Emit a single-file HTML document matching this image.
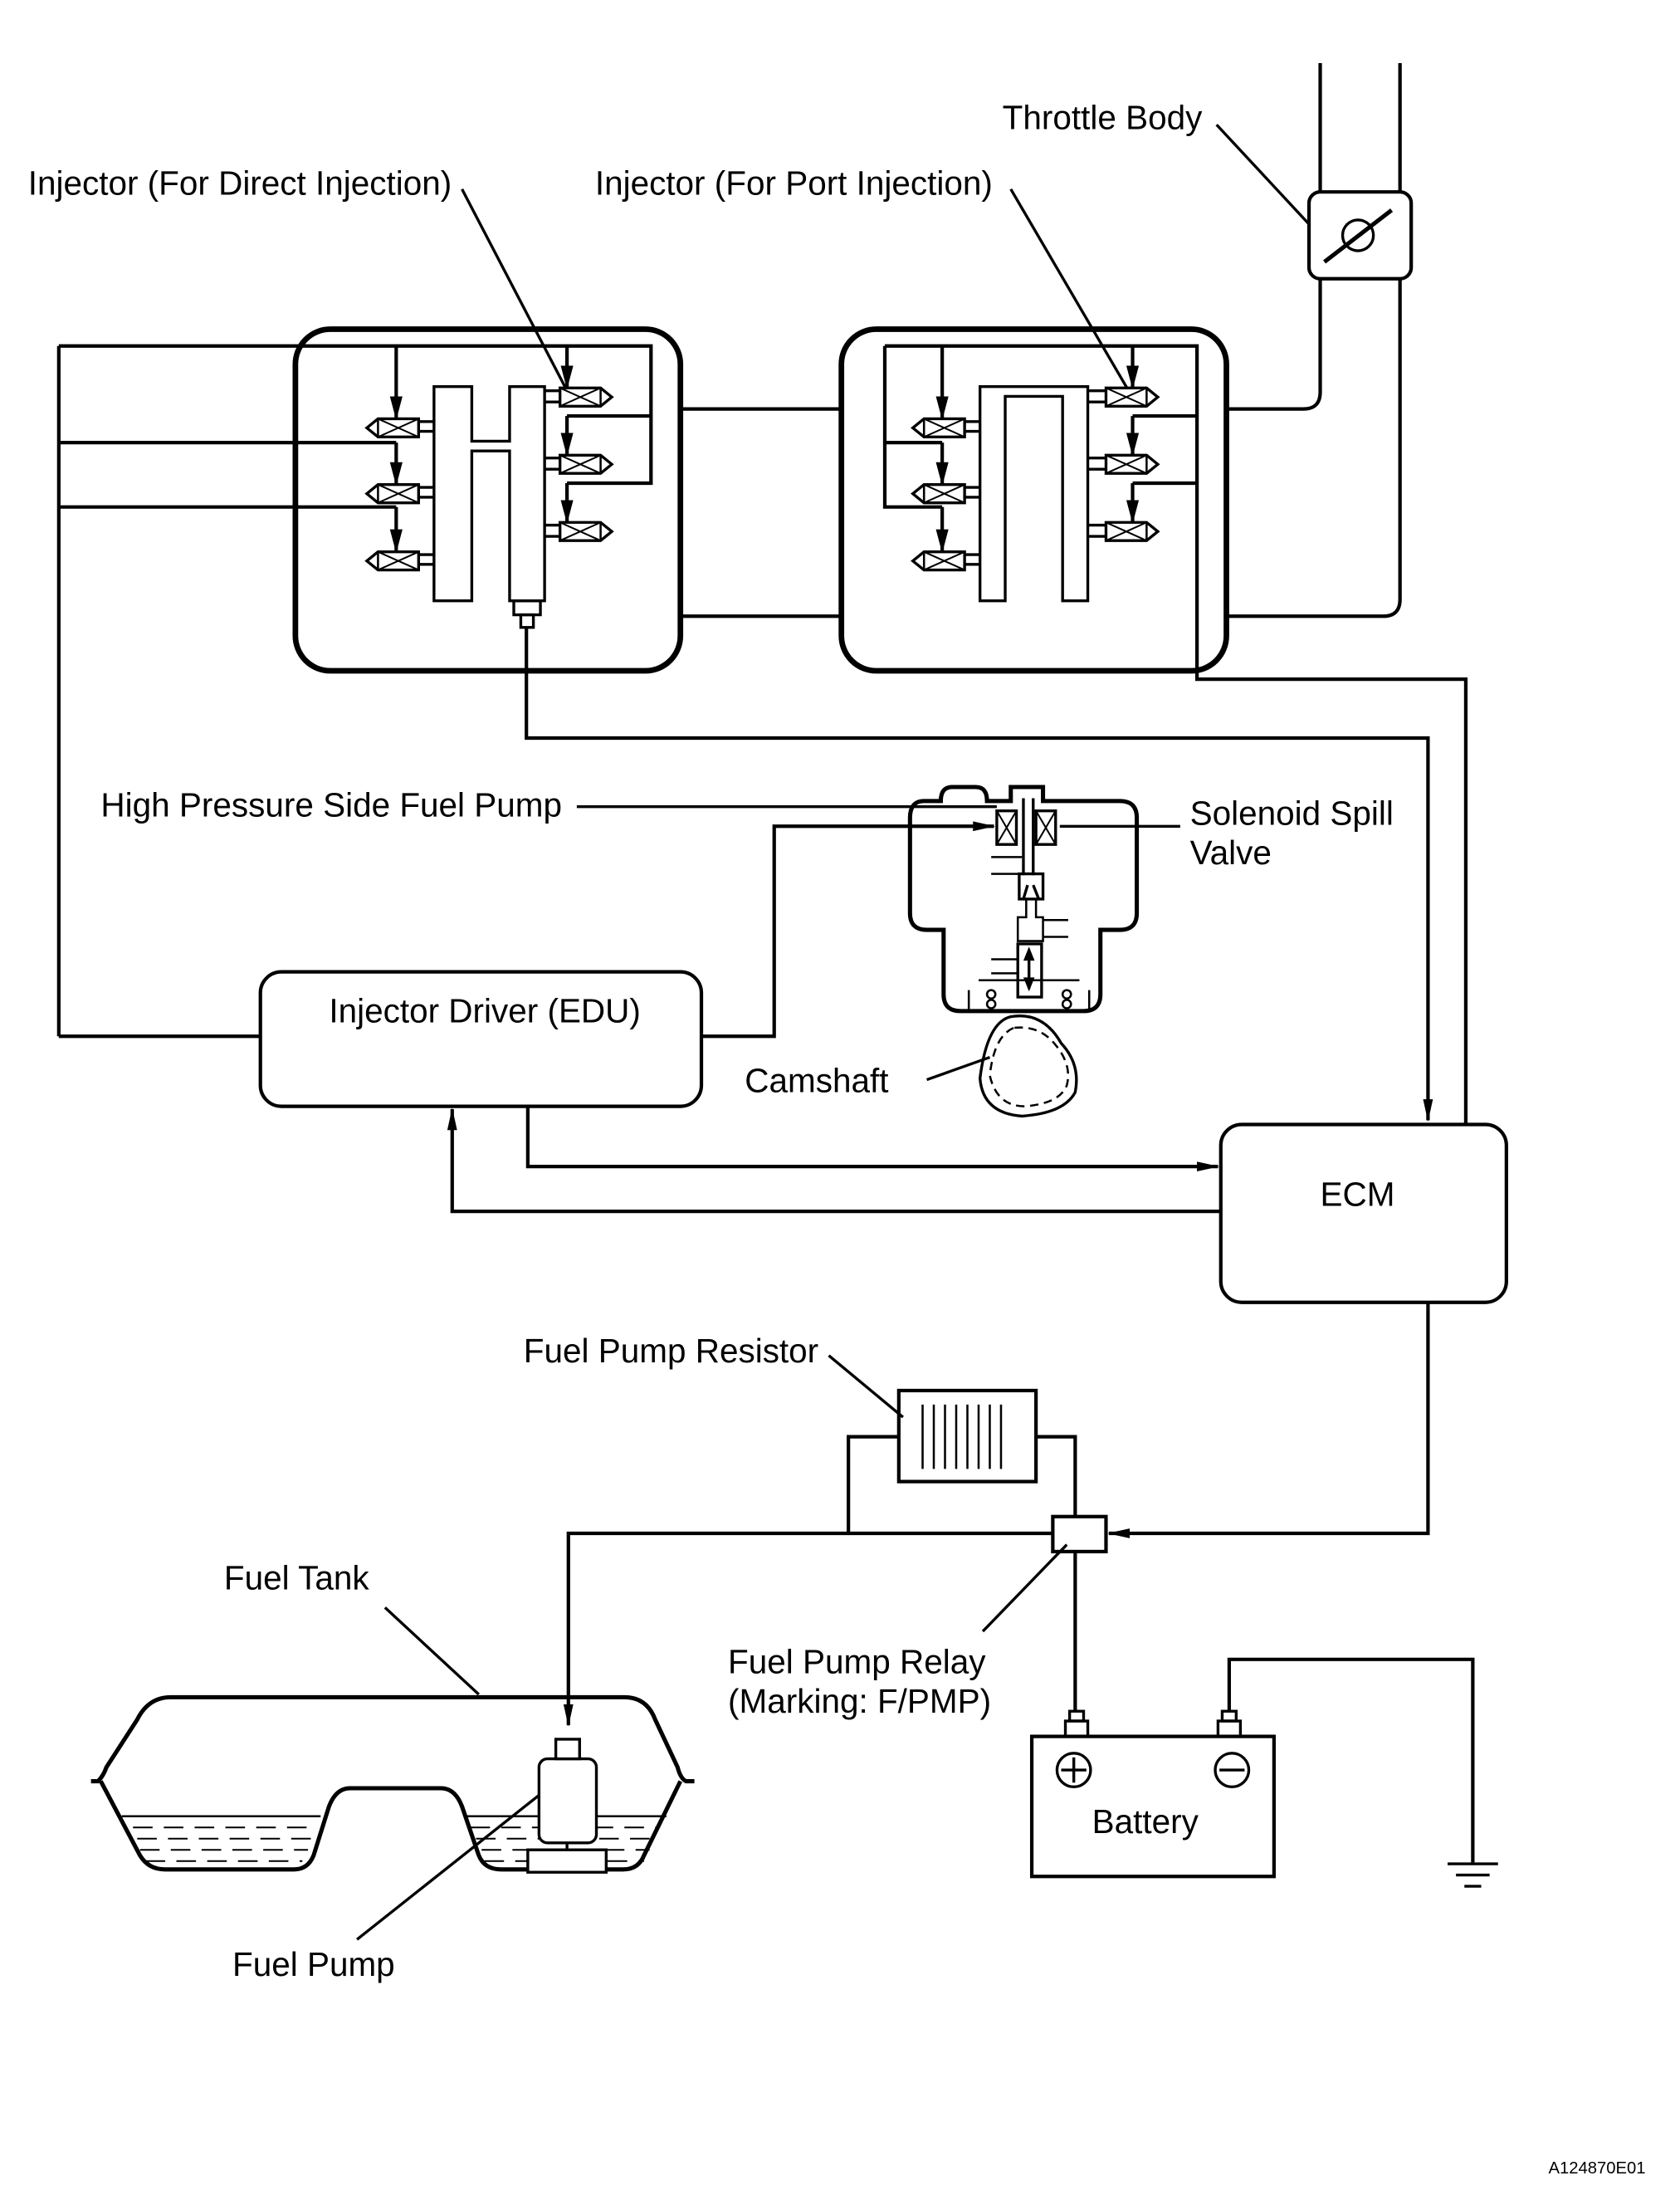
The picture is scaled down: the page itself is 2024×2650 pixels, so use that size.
<!DOCTYPE html>
<html><head><meta charset="utf-8"><style>
html,body{margin:0;padding:0;background:#fff;}
svg{display:block;}
text{font-family:"Liberation Sans",sans-serif;font-size:24px;fill:#000;}
</style></head><body>
<svg width="2024" height="2650" viewBox="0 0 1200 1571" xmlns="http://www.w3.org/2000/svg">
<defs>
<marker id="a" markerWidth="17" markerHeight="10" refX="16" refY="5" orient="auto" markerUnits="userSpaceOnUse"><path d="M0,0.5 L17,5 L0,9.5 Z" fill="#000"/></marker>
<marker id="b" markerWidth="16" markerHeight="10" refX="15" refY="5" orient="auto" markerUnits="userSpaceOnUse"><path d="M0,1.5 L16,5 L0,8.5 Z" fill="#000"/></marker>
<g id="injL"><path d="M0,6.5 L8,0 L37,0 L37,13 L8,13 Z" fill="#fff" stroke="#000" stroke-width="2"/><line x1="8" y1="0" x2="8" y2="13" stroke="#000" stroke-width="1.5"/><path d="M8,0 L37,13 M8,13 L37,0" stroke="#000" stroke-width="1.2"/></g>
<g id="injR"><path d="M37,6.5 L29,0 L0,0 L0,13 L29,13 Z" fill="#fff" stroke="#000" stroke-width="2"/><line x1="29" y1="0" x2="29" y2="13" stroke="#000" stroke-width="1.5"/><path d="M0,0 L29,13 M0,13 L29,0" stroke="#000" stroke-width="1.2"/></g>
</defs>
<g fill="none" stroke="#000" stroke-width="2.5">
<!-- pipe / throttle -->
<path d="M943,45 V280 Q943,292 931,292 H876"/>
<path d="M1000,45 V428 Q1000,440 988,440 H876"/>
<rect x="935" y="137" width="73" height="62" rx="8" fill="#fff"/>
<circle cx="970" cy="168" r="11" stroke-width="2"/>
<line x1="946" y1="187" x2="994" y2="150" stroke-width="3"/>
<line x1="869" y1="89" x2="935" y2="160" stroke-width="2"/>
<!-- blocks -->
<rect x="211" y="235" width="275" height="244" rx="25" stroke-width="4"/>
<rect x="601" y="235" width="275" height="244" rx="25" stroke-width="4"/>
<line x1="486" y1="292" x2="601" y2="292"/>
<line x1="486" y1="440" x2="601" y2="440"/>
<!-- block1 wiring -->
<path d="M42,247 H465 V345 H405" />
<line x1="465" y1="297" x2="405" y2="297"/>
<line x1="42" y1="247" x2="42" y2="740"/>
<line x1="42" y1="740" x2="186" y2="740"/>
<path d="M42,316 H283"/>
<path d="M42,362 H283"/>
<line x1="283" y1="247" x2="283" y2="299" marker-end="url(#a)"/>
<line x1="283" y1="316" x2="283" y2="346" marker-end="url(#a)"/>
<line x1="283" y1="362" x2="283" y2="394" marker-end="url(#a)"/>
<line x1="405" y1="247" x2="405" y2="277" marker-end="url(#a)"/>
<line x1="405" y1="297" x2="405" y2="325" marker-end="url(#a)"/>
<line x1="405" y1="345" x2="405" y2="373" marker-end="url(#a)"/>
<!-- rails block1 -->
<path d="M310,276 H337 V315 H364 V276 H389 V429 H364 V322 H337 V429 H310 Z" stroke-width="2"/>
<path d="M299,301 H310 M299,308 H310 M299,348 H310 M299,355 H310 M299,396 H310 M299,403 H310" stroke-width="2"/>
<path d="M389,279 H400 M389,287 H400 M389,327 H400 M389,335 H400 M389,375 H400 M389,383 H400" stroke-width="2"/>
<rect x="367" y="429" width="19" height="10" stroke-width="2"/>
<rect x="372" y="439" width="9" height="9" stroke-width="2"/>
<path d="M376,448 V527 H1020 V800" marker-end="url(#b)"/>
<line x1="330" y1="135" x2="404" y2="277" stroke-width="2"/>
<!-- block2 wiring -->
<path d="M632,247 H855 V485 H1047 V803"/>
<path d="M632,247 V362 H673"/>
<line x1="632" y1="316" x2="673" y2="316"/>
<line x1="855" y1="297" x2="809" y2="297"/>
<line x1="855" y1="345" x2="809" y2="345"/>
<line x1="673" y1="247" x2="673" y2="299" marker-end="url(#a)"/>
<line x1="673" y1="316" x2="673" y2="346" marker-end="url(#a)"/>
<line x1="673" y1="362" x2="673" y2="394" marker-end="url(#a)"/>
<line x1="809" y1="247" x2="809" y2="277" marker-end="url(#a)"/>
<line x1="809" y1="297" x2="809" y2="325" marker-end="url(#a)"/>
<line x1="809" y1="345" x2="809" y2="373" marker-end="url(#a)"/>
<path d="M700,429 V276 H777 V429 H759 V283 H718 V429 Z" stroke-width="2"/>
<path d="M689,301 H700 M689,308 H700 M689,348 H700 M689,355 H700 M689,396 H700 M689,403 H700" stroke-width="2"/>
<path d="M777,279 H790 M777,287 H790 M777,327 H790 M777,335 H790 M777,375 H790 M777,383 H790" stroke-width="2"/>
<line x1="722" y1="135" x2="805" y2="277" stroke-width="2"/>
<!-- EDU & ECM -->
<rect x="186" y="694" width="315" height="96" rx="15"/>
<rect x="872" y="803" width="204" height="127" rx="15"/>
<path d="M501,740 H553 V590 H710" marker-end="url(#b)"/>
<path d="M377,790 V833 H870" marker-end="url(#b)"/>
<path d="M872,865 H323 V792" marker-end="url(#b)"/>
<line x1="412" y1="576" x2="712" y2="576" stroke-width="2"/>
<line x1="757" y1="590" x2="843" y2="590" stroke-width="2"/>
<!-- pump body -->
<path d="M660,572 H672 Q672,562 680,562 H697 Q705,562 705,572 H722 V562 H745 V572 H800 Q812,572 812,584 V652 Q812,664 800,664 H786 V710 Q786,722 774,722 H686 Q674,722 674,710 V664 H662 Q650,664 650,652 V584 Q650,572 660,572 Z" stroke-width="3"/>
<rect x="712" y="579" width="14" height="24" stroke-width="2"/><path d="M712,579 L726,603 M726,579 L712,603" stroke-width="1.2"/>
<rect x="740" y="579" width="14" height="24" stroke-width="2"/><path d="M740,579 L754,603 M754,579 L740,603" stroke-width="1.2"/>
<path d="M731,570 V625 M738,570 V625" stroke-width="2"/>
<path d="M728,624 H745 V642 H728 Z M731,642 L734,632 M742,642 L738,632" stroke-width="2"/>
<path d="M708,612 H730 M708,624 H730" stroke-width="1.5"/>
<path d="M733,642 V655 H727 V672 H745 V655 H740 V642 M745,657 H763 M745,669 H763" stroke-width="1.5"/>
<rect x="727" y="674" width="17" height="38" stroke-width="2"/>
<line x1="735" y1="680" x2="735" y2="706" stroke-width="2"/>
<path d="M731,686 L735,676 L739,686 Z M731,698 L735,708 L739,698 Z" fill="#000" stroke="none"/>
<path d="M708,685 H727 M708,695 H727 M699,700 H771" stroke-width="1.5"/>
<path d="M692,707 V722 H778 V707" stroke-width="1.5"/>
<circle cx="708" cy="710" r="3" stroke-width="1.5"/><circle cx="708" cy="717" r="3" stroke-width="1.5"/>
<circle cx="762" cy="710" r="3" stroke-width="1.5"/><circle cx="762" cy="717" r="3" stroke-width="1.5"/>
<!-- camshaft -->
<path d="M722,726 Q705,730 700,770 Q702,795 730,797 Q760,795 768,780 Q772,760 758,745 Q745,722 722,726 Z" stroke-width="2"/>
<path d="M724,734 Q710,740 707,768 Q712,790 732,790 Q757,788 762,775 Q766,760 753,745 Q742,732 724,734 Z" stroke-width="1.5" stroke-dasharray="6,4"/>
<line x1="662" y1="771" x2="707" y2="755" stroke-width="2"/>
<!-- resistor & relay -->
<path d="M1020,930 V1095 H792" marker-end="url(#b)"/>
<rect x="642" y="993" width="98" height="65" stroke-width="2.5"/>
<path d="M659,1003 V1049 M667,1003 V1049 M675,1003 V1049 M683,1003 V1049 M691,1003 V1049 M699,1003 V1049 M707,1003 V1049 M715,1003 V1049" stroke-width="1.5"/>
<path d="M642,1026 H606 V1095"/>
<path d="M740,1026 H768 V1083"/>
<line x1="592" y1="968" x2="645" y2="1012" stroke-width="2"/>
<rect x="752" y="1083" width="38" height="25" stroke-width="2.5"/>
<path d="M752,1095 H406 V1232" marker-end="url(#b)"/>
<line x1="768" y1="1108" x2="768" y2="1222"/>
<line x1="702" y1="1165" x2="762" y2="1103" stroke-width="2"/>
<!-- battery -->
<rect x="737" y="1240" width="173" height="100" stroke-width="2.5"/>
<rect x="761" y="1229" width="16" height="11" stroke-width="2"/>
<rect x="764" y="1222" width="10" height="7" stroke-width="2"/>
<rect x="870" y="1229" width="16" height="11" stroke-width="2"/>
<rect x="873" y="1222" width="10" height="7" stroke-width="2"/>
<circle cx="767" cy="1264" r="12" stroke-width="2"/><path d="M758,1264 H776 M767,1255 V1273" stroke-width="2"/>
<circle cx="880" cy="1264" r="12" stroke-width="2"/><path d="M871,1264 H889" stroke-width="2"/>
<path d="M878,1222 V1185 H1052 V1330"/>
<path d="M1034,1331 H1070 M1040,1339 H1064 M1046,1347 H1058" stroke-width="2"/>
<!-- fuel tank -->
<path d="M65,1272 H70 Q74,1268 76,1262 L98,1228 Q106,1212 122,1212 H446 Q462,1212 468,1228 L484,1262 Q486,1270 490,1272 H496" stroke-width="3"/>
<path d="M72,1272 L100,1325 Q106,1335 118,1335 H210 Q220,1335 224,1325 L235,1290 Q240,1277 250,1277 H315 Q325,1277 330,1290 L342,1325 Q346,1335 358,1335 H445 Q456,1335 460,1325 L486,1272" stroke-width="3"/>
<line x1="275" y1="1148" x2="342" y2="1210" stroke-width="2"/>
<path d="M87,1297 H229 M332,1297 H476" stroke-width="1.5"/>
<g stroke-width="1.2" stroke-dasharray="14,8">
<path d="M95,1305 H225 M98,1313 H222 M100,1321 H220 M104,1329 H216 M336,1305 H470 M340,1313 H467 M344,1321 H464 M346,1329 H460"/>
</g>
<rect x="385" y="1256" width="41" height="60" rx="6" fill="#fff" stroke-width="2"/>
<rect x="397" y="1242" width="17" height="14" fill="#fff" stroke-width="2"/>
<rect x="377" y="1321" width="56" height="16" fill="#fff" stroke-width="2"/>
<line x1="405" y1="1316" x2="405" y2="1321" stroke-width="2"/>
<line x1="255" y1="1385" x2="385" y2="1282" stroke-width="2"/>
</g>
<!-- injectors -->
<use href="#injL" x="262" y="299"/><use href="#injL" x="262" y="346"/><use href="#injL" x="262" y="394"/>
<use href="#injR" x="400" y="277"/><use href="#injR" x="400" y="325"/><use href="#injR" x="400" y="373"/>
<use href="#injL" x="652" y="299"/><use href="#injL" x="652" y="346"/><use href="#injL" x="652" y="394"/>
<use href="#injR" x="790" y="277"/><use href="#injR" x="790" y="325"/><use href="#injR" x="790" y="373"/>
<text x="20" y="139">Injector (For Direct Injection)</text>
<text x="425" y="139">Injector (For Port Injection)</text>
<text x="716" y="92">Throttle Body</text>
<text x="72" y="583">High Pressure Side Fuel Pump</text>
<text x="850" y="589">Solenoid Spill</text>
<text x="850" y="617">Valve</text>
<text x="235" y="730">Injector Driver (EDU)</text>
<text x="532" y="780">Camshaft</text>
<text x="943" y="861">ECM</text>
<text x="374" y="973">Fuel Pump Resistor</text>
<text x="160" y="1135">Fuel Tank</text>
<text x="520" y="1195">Fuel Pump Relay</text>
<text x="520" y="1223">(Marking: F/PMP)</text>
<text x="780" y="1309">Battery</text>
<text x="166" y="1411">Fuel Pump</text>
<text x="1106" y="1552" style="font-size:12px">A124870E01</text>
</svg>
</body></html>
